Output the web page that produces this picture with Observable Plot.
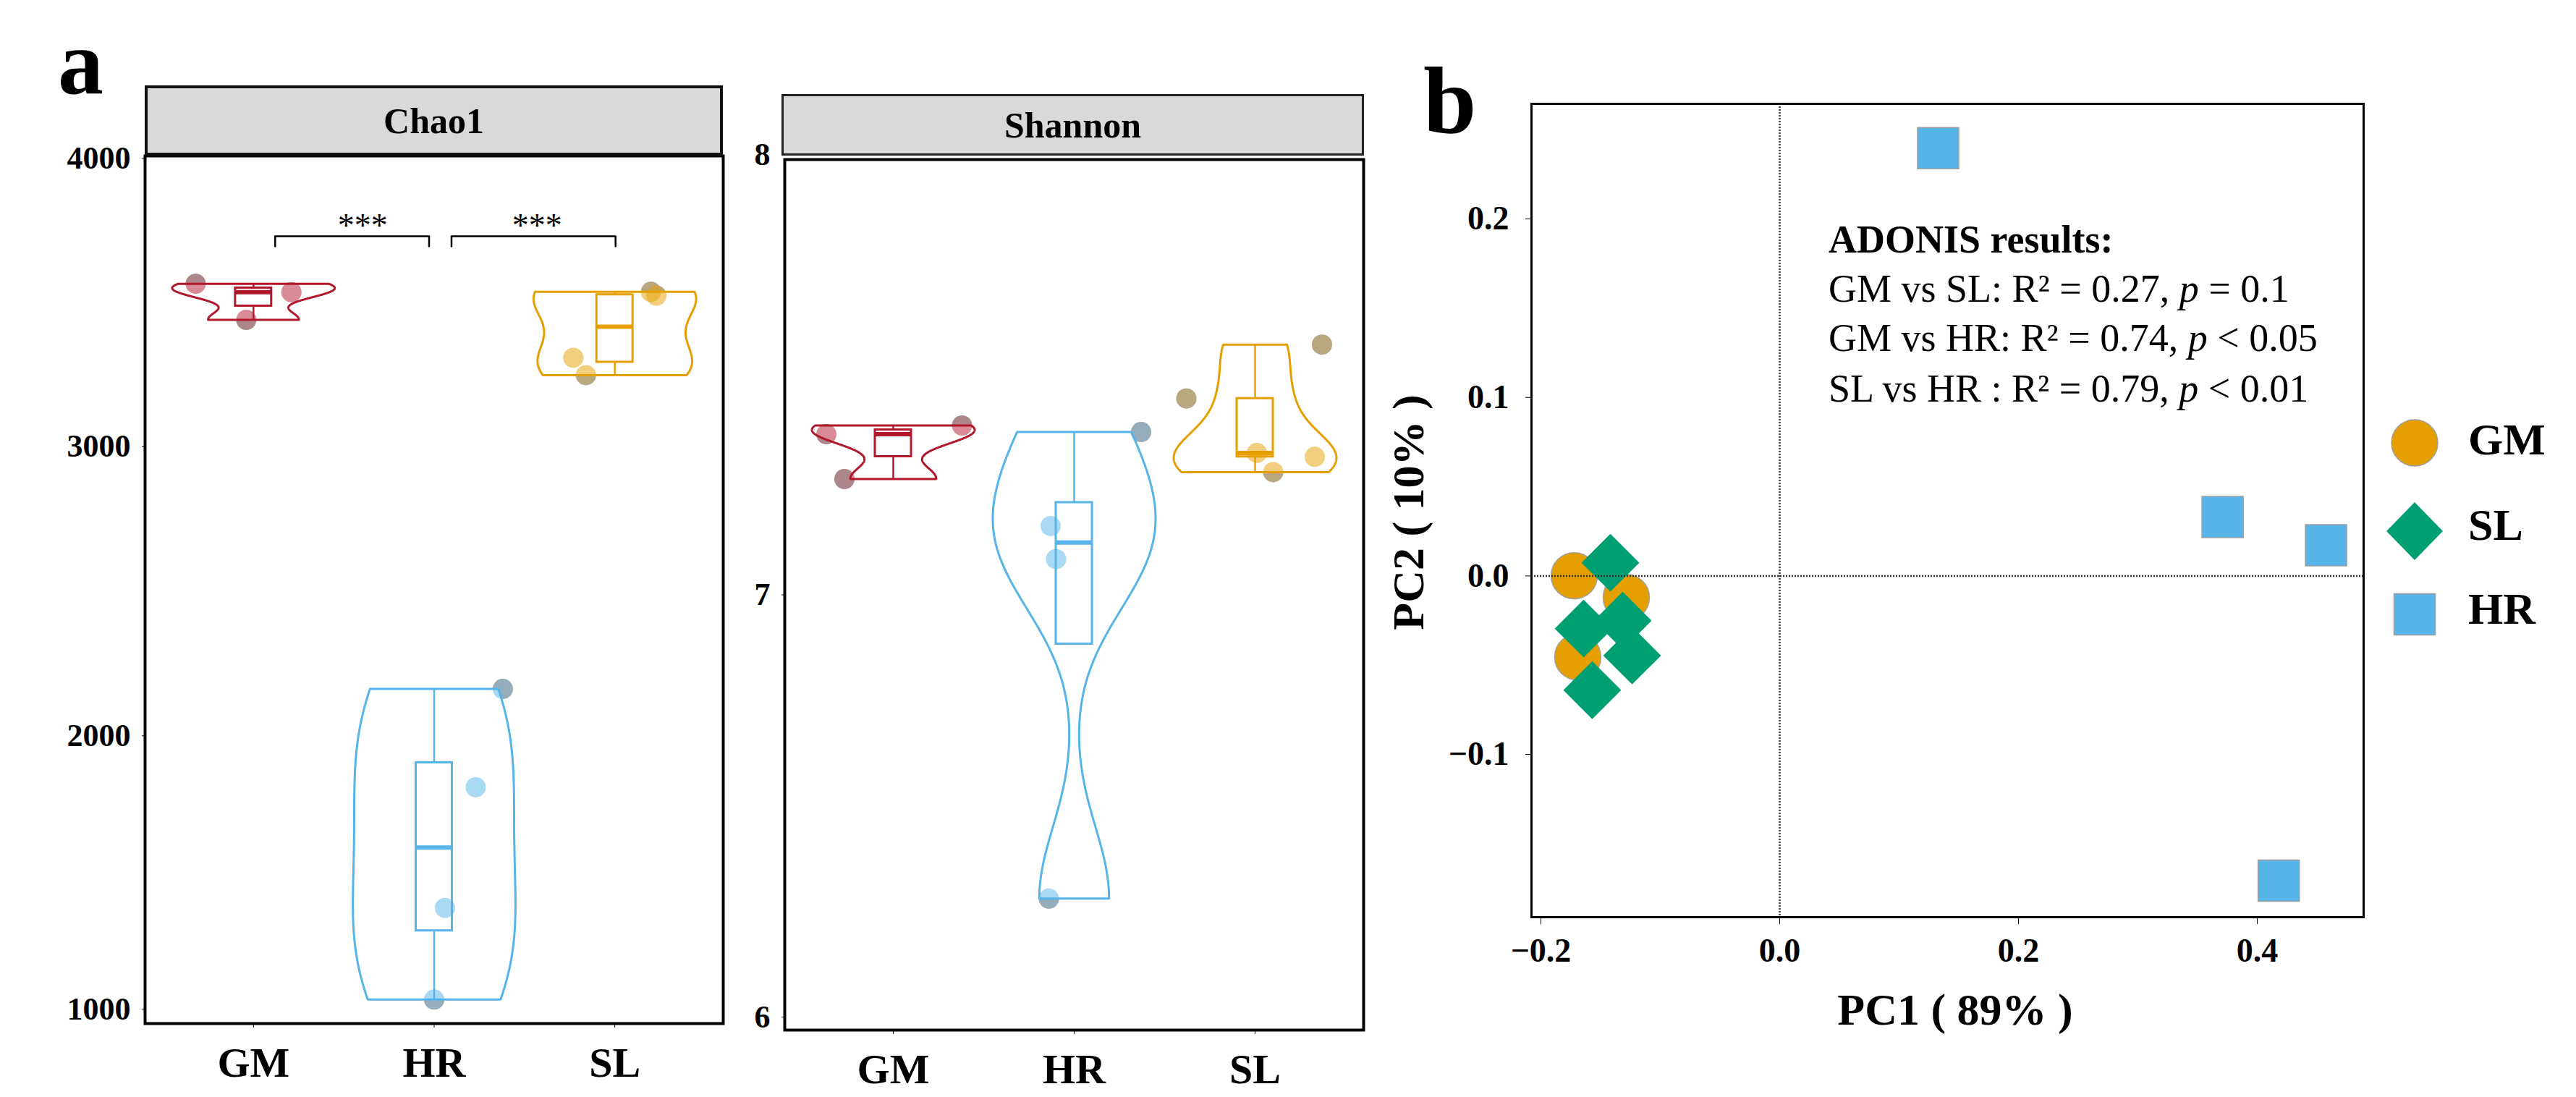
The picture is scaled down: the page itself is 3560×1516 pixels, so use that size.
<!DOCTYPE html>
<html><head><meta charset="utf-8">
<script src="https://cdn.jsdelivr.net/npm/d3@7"></script>
<script src="https://cdn.jsdelivr.net/npm/@observablehq/plot@0.6"></script>
<style>
body{margin:0;background:#fff;}
#root{position:relative;width:3560px;height:1516px;overflow:hidden;font-family:"Liberation Serif","Times New Roman",serif;color:#000;}
.abs{position:absolute;white-space:nowrap;line-height:1;}
.strip{position:absolute;box-sizing:border-box;background:#d9d9d9;display:flex;align-items:center;justify-content:center;line-height:1;font-weight:bold;}
</style></head><body><div id="root"></div>
<script>
// ---------- data ----------
const groups = ["GM", "HR", "SL"];
const groupColors = ["#B2182B", "#56B4E9", "#E69F00"];

// Chao1 samples
const chao1GM = [3433, 3529, 3558];
const chao1HR = [1083, 1400, 1817, 2157];
const chao1SL = [3242, 3302, 3517, 3530];
// horizontal jitter of the plotted points (category units)
const chao1JitterGM = [-0.04, 0.21, -0.32];
const chao1JitterHR = [0.00, 0.06, 0.23, 0.38];
const chao1JitterSL = [-0.16, -0.23, 0.23, 0.20];
const chao1Ticks = [1000, 2000, 3000, 4000];

// Shannon samples
const shannonGM = [7.266, 7.369, 7.389];
const shannonHR = [6.302, 7.082, 7.158, 7.374];
const shannonSL = [7.282, 7.317, 7.326, 7.451, 7.575];
const shannonJitterGM = [-0.27, -0.37, 0.38];
const shannonJitterHR = [-0.14, -0.10, -0.13, 0.37];
const shannonJitterSL = [0.10, 0.33, 0.01, -0.38, 0.37];
const shannonTicks = [6, 7, 8];

// significance brackets on Chao1
const sigFrom = [1.12, 2.096];
const sigTo = [1.972, 3.004];
const sigY = [3722, 3722];
const sigTipY = [3687, 3687];
const sigLabelX = [1.605, 2.57];
const sigLabels = ["***", "***"];

// PCoA
const pcaGroups = ["GM", "SL", "HR"];
const pcaColors = ["#E69F00", "#009E73", "#56B4E9"];
const pc1GM = [-0.1721, -0.1285, -0.1691];
const pc2GM = [0.0001, -0.0121, -0.0454];
const pc1SL = [-0.1418, -0.1642, -0.1315, -0.1236, -0.1570];
const pc2SL = [0.0074, -0.0295, -0.0251, -0.0446, -0.0640];
const pc1HR = [0.1327, 0.3710, 0.4576, 0.4180];
const pc2HR = [0.2397, 0.0330, 0.0172, -0.1707];
const pc1Ticks = [-0.2, 0, 0.2, 0.4];
const pc2Ticks = [-0.1, 0, 0.1, 0.2];
const adonisTitle = "ADONIS results:";
const adonisPairs = ["GM vs SL: ", "GM vs HR: ", "SL vs HR : "];
const adonisR2 = ["0.27", "0.74", "0.79"];
const adonisP = ["= 0.1", "< 0.05", "< 0.01"];

// ---------- helpers ----------
const root = document.getElementById("root");
const FONT = '"Liberation Serif","Times New Roman",serif';

function nrd0(s) {
  const sd = d3.deviation(s);
  const iqr = d3.quantileSorted(s, 0.75) - d3.quantileSorted(s, 0.25);
  let lo = Math.min(sd, iqr / 1.34);
  if (!(lo > 0)) lo = sd || Math.abs(s[0]) || 1;
  return 0.9 * lo * Math.pow(s.length, -0.2);
}

// colour seen where a half-transparent point lies outside the violin (grey veil)
function veilColor(c) {
  const r = d3.rgb(c);
  return d3.rgb((511 - r.r) / 2, (511 - r.g) / 2, (511 - r.b) / 2).formatHex();
}

function place(el, left, top) {
  el.style.position = "absolute";
  el.style.left = left + "px";
  el.style.top = top + "px";
  root.appendChild(el);
}

function textDiv(html, x, baseline, size, weight, extra) {
  const d = document.createElement("div");
  d.className = "abs";
  d.innerHTML = html;
  d.style.fontSize = size + "px";
  d.style.fontWeight = weight || "normal";
  d.style.left = x + "px";
  d.style.top = (baseline - 0.8375 * size) + "px";
  if (extra) Object.assign(d.style, extra);
  root.appendChild(d);
  return d;
}

function alphaPanel(cfg) {
  const violin = [], outline = [], boxes = [], pts = [];
  cfg.sets.forEach((vals, i) => {
    const g = groups[i], c = i + 1;
    const s = [...vals].sort(d3.ascending);
    const bw = nrd0(s);
    const lo = s[0], hi = s[s.length - 1];
    const N = 256;
    const grid = d3.range(N).map(k => lo + (hi - lo) * k / (N - 1));
    const dens = grid.map(y => d3.sum(s, v => Math.exp(-0.5 * ((y - v) / bw) ** 2)));
    const m = d3.max(dens);
    const hw = dens.map(d => 0.45 * d / m);
    grid.forEach((y, k) => violin.push({group: g, y, x1: c - hw[k], x2: c + hw[k]}));
    grid.forEach((y, k) => outline.push({group: g, y, x: c + hw[k]}));
    for (let k = N - 1; k >= 0; k--) outline.push({group: g, y: grid[k], x: c - hw[k]});
    const q1 = d3.quantileSorted(s, 0.25), med = d3.quantileSorted(s, 0.5), q3 = d3.quantileSorted(s, 0.75);
    const iqr = q3 - q1;
    const wlo = d3.min(s.filter(v => v >= q1 - 1.5 * iqr));
    const whi = d3.max(s.filter(v => v <= q3 + 1.5 * iqr));
    boxes.push({group: g, c, q1, med, q3, wlo, whi});
    vals.forEach((v, k) => pts.push({group: g, veil: veilColor(groupColors[i]), x: c + cfg.jitters[i][k], y: v}));
  });
  const tickOpts = {tickFormat: d => String(d), fontSize: 44, fontWeight: "bold", tickSize: 4, tickPadding: 16, label: null};
  const marks = [
    Plot.dot(pts, {x: "x", y: "y", r: 14, fill: d => d.veil}),
    Plot.areaX(violin, {y: "y", x1: "x1", x2: "x2", z: "group", fill: "white"}),
    Plot.line(outline, {x: "x", y: "y", z: "group", stroke: "group", strokeWidth: 3, curve: "linear-closed"}),
    Plot.ruleX(boxes, {x: "c", y1: "q3", y2: "whi", stroke: "group", strokeWidth: 2.5}),
    Plot.ruleX(boxes, {x: "c", y1: "q1", y2: "wlo", stroke: "group", strokeWidth: 2.5}),
    Plot.rect(boxes, {x1: d => d.c - 0.1, x2: d => d.c + 0.1, y1: "q1", y2: "q3", fill: "white", stroke: "group", strokeWidth: 3}),
    Plot.ruleY(boxes, {y: "med", x1: d => d.c - 0.1, x2: d => d.c + 0.1, stroke: "group", strokeWidth: 6}),
    Plot.dot(pts, {x: "x", y: "y", r: 14, fill: "group", fillOpacity: 0.5}),
    Plot.frame({stroke: "black", strokeWidth: 4}),
    Plot.axisX({ticks: [1, 2, 3], tickFormat: d => groups[d - 1], fontSize: 58, fontWeight: "bold", tickSize: 6, tickPadding: 26, label: null})
  ];
  cfg.ticks.forEach((t, i) => marks.push(Plot.axisY({...tickOpts, ticks: [t], dy: cfg.tickDy[i]})));
  if (cfg.sig) {
    const br = [];
    sigFrom.forEach((x1, i) => {
      br.push({id: i, x: x1, y: sigTipY[i]}, {id: i, x: x1, y: sigY[i]}, {id: i, x: sigTo[i], y: sigY[i]}, {id: i, x: sigTo[i], y: sigTipY[i]});
    });
    marks.push(Plot.line(br, {x: "x", y: "y", z: "id", stroke: "black", strokeWidth: 2.5}));
    marks.push(Plot.text(sigLabels.map((t, i) => ({x: sigLabelX[i], y: sigY[i], t})), {x: "x", y: "y", text: "t", fontSize: 46, lineAnchor: "bottom", fill: "black"}));
  }
  const svg = Plot.plot({
    width: cfg.width, height: 1516,
    marginLeft: cfg.marginLeft, marginRight: cfg.marginRight, marginTop: cfg.marginTop, marginBottom: cfg.marginBottom,
    x: {domain: [0.4, 3.6]},
    y: {domain: cfg.yDomain},
    color: {domain: groups, range: groupColors},
    style: {fontFamily: FONT, color: "black", background: "transparent", overflow: "visible"},
    marks
  });
  place(svg, cfg.left, 0);
}

// ---------- panel a: Chao1 ----------
alphaPanel({
  sets: [chao1GM, chao1HR, chao1SL],
  jitters: [chao1JitterGM, chao1JitterHR, chao1JitterSL],
  yDomain: [1000, 4000], ticks: chao1Ticks, tickDy: [-20, 2, 2, 3],
  left: 0, width: 1040, marginLeft: 200, marginRight: 41, marginTop: 215, marginBottom: 102,
  sig: true
});

// ---------- panel a: Shannon ----------
alphaPanel({
  sets: [shannonGM, shannonHR, shannonSL],
  jitters: [shannonJitterGM, shannonJitterHR, shannonJitterSL],
  yDomain: [6, 8], ticks: shannonTicks, tickDy: [-18, 0, -7],
  left: 1040, width: 880, marginLeft: 44, marginRight: 36, marginTop: 220, marginBottom: 93,
  sig: false
});

// ---------- panel b: PCoA ----------
{
  const rows = (xs, ys) => xs.map((x, i) => ({x, y: ys[i]}));
  const svg = Plot.plot({
    width: 1660, height: 1516,
    marginLeft: 216, marginRight: 294, marginTop: 143, marginBottom: 249,
    x: {domain: [-0.20788, 0.48909]},
    y: {domain: [-0.1912, 0.2645]},
    style: {fontFamily: FONT, color: "black", background: "transparent", overflow: "visible"},
    marks: [
      Plot.dot(rows(pc1GM, pc2GM), {x: "x", y: "y", r: 32, fill: pcaColors[0], stroke: "#a0a0a0", strokeWidth: 1.5}),
      Plot.dot(rows(pc1SL, pc2SL), {x: "x", y: "y", r: 36, symbol: "diamond2", fill: pcaColors[1], stroke: "none"}),
      Plot.dot(rows(pc1HR, pc2HR), {x: "x", y: "y", r: 32.2, symbol: "square", fill: pcaColors[2], stroke: "#a0a0a0", strokeWidth: 1.5}),
      Plot.ruleX([0], {stroke: "#333", strokeWidth: 2.5, strokeDasharray: "2,2"}),
      Plot.ruleY([0], {stroke: "#333", strokeWidth: 2.5, strokeDasharray: "2,2"}),
      Plot.frame({stroke: "black", strokeWidth: 3}),
      Plot.axisX({ticks: pc1Ticks, tickFormat: d3.format(".1f"), fontSize: 46, fontWeight: "bold", tickSize: 10, tickPadding: 19, label: null}),
      Plot.axisY({ticks: pc2Ticks, tickFormat: d3.format(".1f"), fontSize: 46, fontWeight: "bold", tickSize: 8, tickPadding: 23, label: null})
    ]
  });
  place(svg, 1900, 0);
}

// ---------- text overlays ----------
textDiv("a", 80, 130, 126, "bold");
textDiv("b", 1967, 184, 132, "bold");

const s1 = document.createElement("div");
s1.className = "strip";
Object.assign(s1.style, {left: "200px", top: "118px", width: "799px", height: "97px", border: "4px solid #111", fontSize: "50px"});
s1.textContent = "Chao1";
root.appendChild(s1);

const s2 = document.createElement("div");
s2.className = "strip";
Object.assign(s2.style, {left: "1080px", top: "130px", width: "805px", height: "85px", border: "3px solid #222", fontSize: "50px"});
s2.textContent = "Shannon";
root.appendChild(s2);

// ADONIS annotation
textDiv(adonisTitle, 2527, 349, 54, "bold");
const adonisBase = [417, 485, 555];
adonisPairs.forEach((p, i) => {
  textDiv(p + "R\u00B2 = " + adonisR2[i] + ", <i>p</i> " + adonisP[i], 2527, adonisBase[i], 54, "normal");
});

// axis titles
textDiv("PC1 ( 89% )", 2202, 1416, 62, "bold", {width: "1000px", textAlign: "center"});
const pc2 = textDiv("PC2 ( 10% )", 1446, 708 + 0.33 * 62, 62, "bold", {width: "1000px", textAlign: "center"});
pc2.style.transform = "rotate(-90deg)";

// legend
const legendItems = [
  {label: pcaGroups[0], color: pcaColors[0], shape: "circle", cy: 612, base: 628},
  {label: pcaGroups[1], color: pcaColors[1], shape: "diamond", cy: 734, base: 746},
  {label: pcaGroups[2], color: pcaColors[2], shape: "square", cy: 849, base: 862}
];
legendItems.forEach(it => {
  const ns = "http://www.w3.org/2000/svg";
  const svg = document.createElementNS(ns, "svg");
  svg.setAttribute("width", 100); svg.setAttribute("height", 100);
  let el;
  if (it.shape === "circle") {
    el = document.createElementNS(ns, "circle");
    el.setAttribute("cx", 50); el.setAttribute("cy", 50); el.setAttribute("r", 32);
    el.setAttribute("stroke", "#a0a0a0"); el.setAttribute("stroke-width", 1.5);
  } else if (it.shape === "diamond") {
    el = document.createElementNS(ns, "path");
    el.setAttribute("d", "M50,10L89,50L50,90L11,50Z");
  } else {
    el = document.createElementNS(ns, "rect");
    el.setAttribute("x", 21.5); el.setAttribute("y", 21.5); el.setAttribute("width", 57); el.setAttribute("height", 57);
    el.setAttribute("stroke", "#a0a0a0"); el.setAttribute("stroke-width", 1.5);
  }
  el.setAttribute("fill", it.color);
  svg.appendChild(el);
  svg.style.position = "absolute";
  svg.style.left = (3337 - 50) + "px";
  svg.style.top = (it.cy - 50) + "px";
  root.appendChild(svg);
  textDiv(it.label, 3411, it.base, 62, "bold");
});
</script>
</body></html>
